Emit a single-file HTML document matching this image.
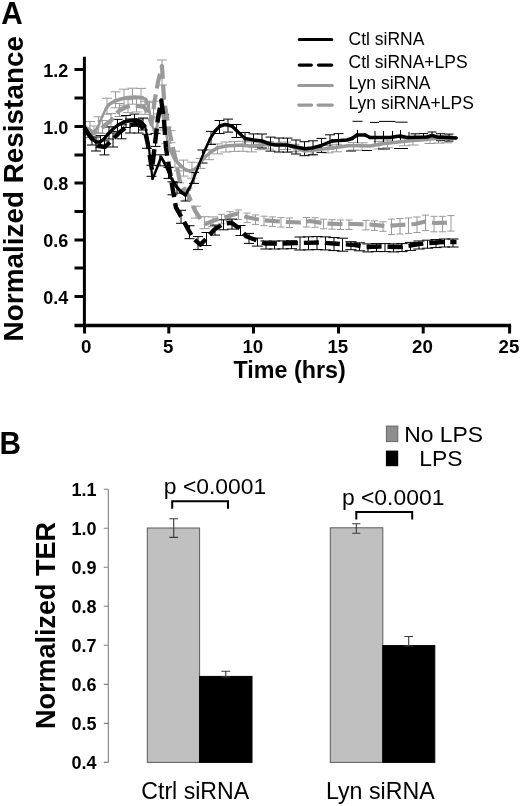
<!DOCTYPE html>
<html lang="en"><head><meta charset="utf-8"><title>Figure: Normalized Resistance and TER</title>
<style>html,body{margin:0;padding:0;background:#fff}body{width:520px;height:806px;overflow:hidden}svg{display:block}text{font-family:'Liberation Sans', Arial, Helvetica, sans-serif;fill:#000}.b{font-weight:bold}</style></head><body>
<svg width="520" height="806" viewBox="0 0 520 806">
<rect width="520" height="806" fill="#fff"/>
<text class="b" font-size="32" transform="translate(1.2 24.4) scale(0.93 1)">A</text>
<text class="b" font-size="27.9" text-anchor="middle" transform="translate(23.3 188.7) rotate(-90)">Normalized Resistance</text>
<path d="M90 121.5V137.5M85 121.5H95M85 137.5H95M98.5 116.8V132.8M93.5 116.8H103.5M93.5 132.8H103.5M107 98.2V114.2M102 98.2H112M102 114.2H112M115.5 91.8V107.8M110.5 91.8H120.5M110.5 107.8H120.5M124 89.2V105.2M119 89.2H129M119 105.2H129M132.5 88.2V104.2M127.5 88.2H137.5M127.5 104.2H137.5M141 88.4V104.4M136 88.4H146M136 104.4H146M149.5 102.7V118.7M144.5 102.7H154.5M144.5 118.7H154.5M158 114V130M153 114H163M153 130H163M166.5 127.3V143.3M161.5 127.3H171.5M161.5 143.3H171.5M175 151.2V167.2M170 151.2H180M170 167.2H180M183.5 160.1V176.1M178.5 160.1H188.5M178.5 176.1H188.5M192 162.2V178.2M187 162.2H197M187 178.2H197M200.5 158.4V168.4M195.5 158.4H205.5M195.5 168.4H205.5M209 149.7V159.7M204 149.7H214M204 159.7H214M217.5 143.9V153.9M212 143.9H223M212 153.9H223M226 142V152M220.5 142H231.5M220.5 152H231.5M234.5 141.4V151.4M229 141.4H240M229 151.4H240M243 141.3V151.3M237.5 141.3H248.5M237.5 151.3H248.5M251.5 141.9V151.9M246 141.9H257M246 151.9H257M260 142.2V149.7M254.5 142.2H265.5M254.5 149.7H265.5M268.5 141.6V149.1M263 141.6H274M263 149.1H274M285.5 142V149.5M280 142H291M280 149.5H291M294 144.3V151.8M288.5 144.3H299.5M288.5 151.8H299.5M311 147.4V154.9M305.5 147.4H316.5M305.5 154.9H316.5M328 145.4V152.9M322.5 145.4H333.5M322.5 152.9H333.5M336.5 144.3V151.8M331 144.3H342M331 151.8H342M353.5 142.6V150.1M348 142.6H359M348 150.1H359M362 142.8V150.3M356.5 142.8H367.5M356.5 150.3H367.5M379 141.4V148.9M373.5 141.4H384.5M373.5 148.9H384.5M387.5 140.2V147.7M382 140.2H393M382 147.7H393M404.5 138.3V145.8M399 138.3H410M399 145.8H410M413 137.5V145M407.5 137.5H418.5M407.5 145H418.5M430 136V143.5M424.5 136H435.5M424.5 143.5H435.5M438.5 135.6V143.1M433 135.6H444M433 143.1H444M447 135.3V142.8M441.5 135.3H452.5M441.5 142.8H452.5" fill="none" stroke="#999" stroke-width="1.0"/>
<path d="M94 126V139M89 126H99M89 139H99M102.5 120.5V133.5M97.5 120.5H107.5M97.5 133.5H107.5M111 113.5V126.5M106 113.5H116M106 126.5H116M119.5 103.5V116.5M114.5 103.5H124.5M114.5 116.5H124.5M128 99.6V112.6M123 99.6H133M123 112.6H133M136.5 99V112M131.5 99H141.5M131.5 112H141.5M145 101.3V114.3M140 101.3H150M140 114.3H150M153.5 101.2V117.2M148.5 101.2H158.5M148.5 117.2H158.5M162 60V85M157 60H167M157 85H167M170.5 130.7V142.7M165.5 130.7H175.5M165.5 142.7H175.5M179 170.9V182.9M174 170.9H184M174 182.9H184M187.5 188.1V200.1M182.5 188.1H192.5M182.5 200.1H192.5M196 206.1V218.1M191 206.1H201M191 218.1H201M204.5 216.7V228.7M199.5 216.7H209.5M199.5 228.7H209.5M213 216.9V226.4M208 216.9H218M208 226.4H218M221.5 214.3V223.8M217.9 214.3H225.1M217.9 223.8H225.1M230 211.7V221.2M226.4 211.7H233.6M226.4 221.2H233.6M238.5 210V219.5M234.9 210H242.1M234.9 219.5H242.1M247 213.1V222.6M243.4 213.1H250.6M243.4 222.6H250.6M255.5 214.9V224.4M251.9 214.9H259.1M251.9 224.4H259.1M264 216.2V225.7M260.4 216.2H267.6M260.4 225.7H267.6M272.5 216.9V226.4M268.9 216.9H276.1M268.9 226.4H276.1M281 217.6V227.1M277.4 217.6H284.6M277.4 227.1H284.6M289.5 218V227.5M285.9 218H293.1M285.9 227.5H293.1M306.5 217.5V227M302.9 217.5H310.1M302.9 227H310.1M315 217.8V227.3M311.4 217.8H318.6M311.4 227.3H318.6M323.5 219.2V228.8M319.9 219.2H327.1M319.9 228.8H327.1M332 219.7V229.2M328.4 219.7H335.6M328.4 229.2H335.6M340.5 220V229.5M336.9 220H344.1M336.9 229.5H344.1M349 220V229.5M345.4 220H352.6M345.4 229.5H352.6M366 220.4V229.9M362.4 220.4H369.6M362.4 229.9H369.6M374.5 220.9V230.4M370.9 220.9H378.1M370.9 230.4H378.1M383 221.8V231.3M379.4 221.8H386.6M379.4 231.3H386.6M391.5 219.1V234.6M387.9 219.1H395.1M387.9 234.6H395.1M400 218.5V234M396.4 218.5H403.6M396.4 234H403.6M408.5 217.9V233.4M404.9 217.9H412.1M404.9 233.4H412.1M417 217V232.5M413.4 217H420.6M413.4 232.5H420.6M425.5 215.1V230.6M421.9 215.1H429.1M421.9 230.6H429.1M434 216.3V231.8M430.4 216.3H437.6M430.4 231.8H437.6M442.5 216.3V231.8M438.9 216.3H446.1M438.9 231.8H446.1M451 215.6V231.1M447.4 215.6H454.6M447.4 231.1H454.6" fill="none" stroke="#999" stroke-width="1.0"/>
<path d="M92 133V145M87 133H97M87 145H97M100.5 135.6V147.6M95.5 135.6H105.5M95.5 147.6H105.5M109 127V139M104 127H114M104 139H114M117.5 119.4V131.4M112.5 119.4H122.5M112.5 131.4H122.5M126 115.5V127.5M121 115.5H131M121 127.5H131M134.5 114.1V126.1M129.5 114.1H139.5M129.5 126.1H139.5M143 118V130M138 118H148M138 130H148M151.5 165.3V176.3M146.5 165.3H156.5M146.5 176.3H156.5M160 154.8V165.8M155 154.8H165M155 165.8H165M168.5 167.4V178.4M163.5 167.4H173.5M163.5 178.4H173.5M177 182.2V193.2M172 182.2H182M172 193.2H182M185.5 190V201M180.5 190H190.5M180.5 201H190.5M194 172.4V183.4M189 172.4H199M189 183.4H199M202.5 150V163M197.5 150H207.5M197.5 163H207.5M211 131.4V144.4M206 131.4H216M206 144.4H216M219.5 120.5V133.5M214.5 120.5H224.5M214.5 133.5H224.5M228 119.1V132.1M223 119.1H233M223 132.1H233M236.5 124.5V137.5M231.5 124.5H241.5M231.5 137.5H241.5M245 132.5V145.5M240 132.5H250M240 145.5H250M253.5 133.9V146.9M248.5 133.9H258.5M248.5 146.9H258.5M262 134V148M257 134H267M257 148H267M270.5 137.1V151.1M265.5 137.1H275.5M265.5 151.1H275.5M279 138V152M274 138H284M274 152H284M287.5 138.1V152.1M282.5 138.1H292.5M282.5 152.1H292.5M296 140V154M291 140H301M291 154H301M304.5 141.7V155.7M299.5 141.7H309.5M299.5 155.7H309.5M313 140.8V154.8M308 140.8H318M308 154.8H318M321.5 138.4V152.4M316.5 138.4H326.5M316.5 152.4H326.5M330 134.8V148.8M325 134.8H335M325 148.8H335M338.5 133.6V147.6M333.5 133.6H343.5M333.5 147.6H343.5" fill="none" stroke="#000" stroke-width="1.0"/>
<path d="M415 133.8V140.8M410.5 133.8H419.5M410.5 140.8H419.5M423.5 133.6V140.6M419 133.6H428M419 140.6H428M432 132V139M427.5 132H436.5M427.5 139H436.5M440.5 133.7V140.7M436 133.7H445M436 140.7H445M449 134.1V141.1M444.5 134.1H453.5M444.5 141.1H453.5" fill="none" stroke="#000" stroke-width="1.0"/>
<path d="M357.5 130V143M375 131V144M383.5 131V143M392.5 131V143M400.5 130V143M409 132V142M352.5 121.3H362.5M370 122.4H379M379 121.4H395.5M395.5 122.2H407.5M346 151H356M362 150.5H372M378 149H390M394 148.5H408" fill="none" stroke="#000" stroke-width="1"/>
<path d="M96 137V151M91 137H101M91 151H101M104.5 140.9V154.9M99.5 140.9H109.5M99.5 154.9H109.5M113 133V147M108 133H118M108 147H118M121.5 124.8V138.8M116.5 124.8H126.5M116.5 138.8H126.5M130 119V133M125 119H135M125 133H135M138.5 119V133M133.5 119H143.5M133.5 133H143.5M147 134.3V148.3M142 134.3H152M142 148.3H152M155.5 133.4V146.4M150.5 133.4H160.5M150.5 146.4H160.5M164 114.7V127.7M159 114.7H169M159 127.7H169M172.5 181.8V194.8M167.5 181.8H177.5M167.5 194.8H177.5M181 210.3V223.3M176 210.3H186M176 223.3H186M189.5 225.7V238.7M184.5 225.7H194.5M184.5 238.7H194.5M198 236.6V249.6M193 236.6H203M193 249.6H203M206.5 232.5V245.5M201.5 232.5H211.5M201.5 245.5H211.5M215 225.1V235.1M210 225.1H220M210 235.1H220M223.5 219.8V229.8M218.5 219.8H228.5M218.5 229.8H228.5M232 219.1V229.1M227 219.1H237M227 229.1H237M240.5 225.5V235.5M235.5 225.5H245.5M235.5 235.5H245.5M249 233.4V243.4M244 233.4H254M244 243.4H254M257.5 238.1V246.1M251.9 238.1H263.1M251.9 246.1H263.1M266 241V249M260.4 241H271.6M260.4 249H271.6M274.5 241V249M268.9 241H280.1M268.9 249H280.1M283 240.9V248.9M277.4 240.9H288.6M277.4 248.9H288.6M291.5 240.7V248.7M285.9 240.7H297.1M285.9 248.7H297.1M300 237V250M294.4 237H305.6M294.4 250H305.6M308.5 236.8V249.8M302.9 236.8H314.1M302.9 249.8H314.1M317 236.6V249.6M311.4 236.6H322.6M311.4 249.6H322.6M325.5 236.9V249.9M319.9 236.9H331.1M319.9 249.9H331.1M334 237.6V250.6M328.4 237.6H339.6M328.4 250.6H339.6M342.5 238.2V251.2M336.9 238.2H348.1M336.9 251.2H348.1M351 241.7V249.7M345.4 241.7H356.6M345.4 249.7H356.6M359.5 242.8V250.8M353.9 242.8H365.1M353.9 250.8H365.1M368 243.9V251.9M362.4 243.9H373.6M362.4 251.9H373.6M376.5 243.6V251.6M370.9 243.6H382.1M370.9 251.6H382.1M385 243.6V251.6M379.4 243.6H390.6M379.4 251.6H390.6M393.5 243.9V251.9M387.9 243.9H399.1M387.9 251.9H399.1M402 243.6V251.6M396.4 243.6H407.6M396.4 251.6H407.6M410.5 242.4V250.4M404.9 242.4H416.1M404.9 250.4H416.1M419 241V249M413.4 241H424.6M413.4 249H424.6M427.5 240.2V248.2M421.9 240.2H433.1M421.9 248.2H433.1M436 239.6V247.6M430.4 239.6H441.6M430.4 247.6H441.6M444.5 239V247M438.9 239H450.1M438.9 247H450.1M453 239V247M447.4 239H458.6M447.4 247H458.6" fill="none" stroke="#000" stroke-width="1.0"/>
<path d="M98 127L102 117M102 117L106 108.5M146 99.5L149 109M149 109L152 125M152 125L155 133M155 133L158 122M158 122L161.5 109M161.5 109L164 122M164 122L167 138M167 138L170 150" fill="none" stroke="#999" stroke-width="2.6" stroke-linecap="round"/>
<path d="M170 150L174 158" fill="none" stroke="#999" stroke-width="2.8" stroke-linecap="round"/>
<path d="M94 132.5L98 127M106 108.5L109 104.5M174 158L178 163M196 168.5L200 163" fill="none" stroke="#999" stroke-width="3" stroke-linecap="round"/>
<path d="M178 163L182 167M200 163L205 157M205 157L211 152" fill="none" stroke="#999" stroke-width="3.2" stroke-linecap="round"/>
<path d="M84.5 127L89 130M89 130L94 132.5M109 104.5L115 101M142 97.5L146 99.5M182 167L186 170M190 171L196 168.5M211 152L217 148" fill="none" stroke="#999" stroke-width="3.4" stroke-linecap="round"/>
<path d="M115 101L121 99M121 99L127 97.5M127 97.5L135 97M135 97L142 97.5M186 170L190 171M217 148L226 146M226 146L240 145M240 145L250 146M250 146L262.5 145M262.5 145L280 143.8M280 143.8L290 146M290 146L305 151M305 151L315 150M315 150L325 148.8M325 148.8L350 145.5M350 145.5L370 146M370 146L382.5 143.8M382.5 143.8L407.5 141M407.5 141L432.5 138.8M432.5 138.8L456 138" fill="none" stroke="#999" stroke-width="3.6" stroke-linecap="round"/>
<polyline points="84.5,127 89,130 94,133 99,131 104,126 111,120.5 116,114 120,110 125,107.5 130,106 137,106 144,107 147,111 149,117 151.5,124 154.6,101 158,82 162,66 164,99.6 168.8,128.5 172,144 175.6,159 179.6,180 184,189 188.8,196 194.6,210 201.5,220.4 206,223.8 214.2,220.4 225.8,217 237.3,213.5 246.5,217 255.8,219 265,220.4 280,221.5 300,222.5 310,221 325,223.5 340,224 355,224 370,224.5 385,226 400,225 415,224 425.8,221.5 435,223 445.7,222.7 452,222" fill="none" stroke="#999" stroke-width="4.2" stroke-dasharray="15 6" stroke-linejoin="round"/>
<path d="M145 126L148 140M148 140L152.5 179" fill="none" stroke="#000" stroke-width="2.2" stroke-linecap="round"/>
<path d="M152.5 179L157 168M157 168L161 157M165 164L170 176M190 187L195 175M195 175L200 162M200 162L205 150" fill="none" stroke="#000" stroke-width="2.4" stroke-linecap="round"/>
<path d="M205 150L210 139" fill="none" stroke="#000" stroke-width="2.6" stroke-linecap="round"/>
<path d="M84.5 127L88 133M161 157L165 164M170 176L176 186M185.5 195L190 187" fill="none" stroke="#000" stroke-width="2.8" stroke-linecap="round"/>
<path d="M88 133L92 139M104 139L108 134M210 139L215 131" fill="none" stroke="#000" stroke-width="3" stroke-linecap="round"/>
<path d="M108 134L113 129M113 129L118 125M141 122L145 126M176 186L181 192M215 131L220 126M232 126L238 132M238 132L245 138.5" fill="none" stroke="#000" stroke-width="3.2" stroke-linecap="round"/>
<path d="M92 139L96 142M100 142L104 139M118 125L124 122M181 192L185.5 195M320 146L332 141M352 138.5L357 135M365 135L370 137.5" fill="none" stroke="#000" stroke-width="3.4" stroke-linecap="round"/>
<path d="M96 142L100 142M124 122L130 120.5M130 120.5L136 120M136 120L141 122M220 126L225 124.5M225 124.5L232 126M245 138.5L254 140M254 140L262 141M262 141L270 144M270 144L275 145M275 145L287 145M287 145L296 147M296 147L305 148.8M305 148.8L312 148M312 148L320 146M332 141L347 140M347 140L352 138.5M357 135L365 135M370 137.5L390 137.5M390 137.5L400 136M400 136L407 137.5M407 137.5L427 137M427 137L432 135.5M432 135.5L437 137M437 137L456 138" fill="none" stroke="#000" stroke-width="3.6" stroke-linecap="round"/>
<polyline points="84.5,128 89,135 94,141 99,146 105,147 110,142 115,137 120,132 125,128 130,125 136,124 141,126 145,131 148,145 152,170 154.5,148 158,118 161.3,100.5 163.8,118 166,148 169,167 172.7,189 176,207.7 182,218 187.7,228.5 193.5,238.8 200.4,244.6 207.3,237.7 214.2,229.6 223.5,223.8 231.5,222.7 239.6,228.5 246.5,236.5 255.8,240 265,243.5 280,243.5 300,243 320,242.5 340,244 355,245 366,247 380,246.5 399,247 410,245.5 419,244 430,243 443.5,242 456.5,242" fill="none" stroke="#000" stroke-width="4.4" stroke-dasharray="15 6" stroke-linejoin="round"/>
<path d="M84.4 56.8V327.0" stroke="#000" stroke-width="3" fill="none"/>
<path d="M74.5 325.5H511.1" stroke="#000" stroke-width="3.3" fill="none"/>
<path d="M74.5 69.5H84.4M74.5 126.5H84.4M74.5 183H84.4M74.5 240H84.4M74.5 296.5H84.4M74.5 98H84.4M74.5 155H84.4M74.5 211.5H84.4M74.5 268H84.4M84.5 325.5V333.5M168.8 325.5V333.5M253.5 325.5V333.5M338.5 325.5V333.5M423.2 325.5V333.5M509.6 325.5V333.5" stroke="#000" stroke-width="3" fill="none"/>
<text class="b" font-size="18" text-anchor="end" x="68.3" y="76.7">1.2</text>
<text class="b" font-size="18" text-anchor="end" x="68.3" y="133.7">1.0</text>
<text class="b" font-size="18" text-anchor="end" x="68.3" y="190.2">0.8</text>
<text class="b" font-size="18" text-anchor="end" x="68.3" y="247.2">0.6</text>
<text class="b" font-size="18" text-anchor="end" x="68.3" y="303.7">0.4</text>
<text class="b" font-size="18.7" text-anchor="middle" x="86.3" y="352.6">0</text>
<text class="b" font-size="18.7" text-anchor="middle" x="168.1" y="352.6">5</text>
<text class="b" font-size="18.7" text-anchor="middle" x="252.8" y="352.6">10</text>
<text class="b" font-size="18.7" text-anchor="middle" x="337.8" y="352.6">15</text>
<text class="b" font-size="18.7" text-anchor="middle" x="422.5" y="352.6">20</text>
<text class="b" font-size="18.7" text-anchor="middle" x="508.9" y="352.6">25</text>
<text class="b" font-size="23.3" text-anchor="middle" x="289.6" y="378">Time (hrs)</text>
<path d="M299.3 39.5H331.7" stroke="#000" stroke-width="3.1" stroke-linecap="round"/>
<path d="M299.3 65.1H311.3M318.6 65.1H331.7" stroke="#000" stroke-width="3.3" stroke-linecap="round"/>
<path d="M298.7 85.6H332.3" stroke="#999" stroke-width="3" stroke-linecap="round"/>
<path d="M298.7 105.1H311.6M318 105.1H332.3" stroke="#999" stroke-width="3.1" stroke-linecap="round"/>
<text font-size="17.5" x="348.5" y="45.2">Ctl siRNA</text>
<text font-size="17.5" x="348.5" y="68.3">Ctl siRNA+LPS</text>
<text font-size="17.5" x="348.5" y="88.8">Lyn siRNA</text>
<text font-size="17.5" x="348.5" y="108.7">Lyn siRNA+LPS</text>
<text class="b" font-size="32" transform="translate(-0.6 453.8) scale(0.93 1)">B</text>
<text class="b" font-size="27" text-anchor="middle" transform="translate(54.5 625.5) rotate(-90)">Normalized TER</text>
<path d="M108.3 489.2V762.4M103.8 489.2H108.3M103.8 528.3H108.3M103.8 567.3H108.3M103.8 606.3H108.3M103.8 645.3H108.3M103.8 684.4H108.3M103.8 723.4H108.3M103.8 762.4H108.3" stroke="#808080" stroke-width="1.1" fill="none"/>
<text class="b" font-size="18" text-anchor="end" x="96.5" y="496.2">1.1</text>
<text class="b" font-size="18" text-anchor="end" x="96.5" y="535.3">1.0</text>
<text class="b" font-size="18" text-anchor="end" x="96.5" y="574.3">0.9</text>
<text class="b" font-size="18" text-anchor="end" x="96.5" y="613.3">0.8</text>
<text class="b" font-size="18" text-anchor="end" x="96.5" y="652.3">0.7</text>
<text class="b" font-size="18" text-anchor="end" x="96.5" y="691.4">0.6</text>
<text class="b" font-size="18" text-anchor="end" x="96.5" y="730.4">0.5</text>
<text class="b" font-size="18" text-anchor="end" x="96.5" y="769.4">0.4</text>
<rect x="147.3" y="528" width="52.3" height="234.4" fill="#c0c0c0" stroke="#5a5a5a" stroke-width="1"/>
<rect x="199.6" y="676.4" width="52.4" height="86" fill="#000" stroke="#000" stroke-width="1"/>
<rect x="330.3" y="527.8" width="52.5" height="234.6" fill="#c0c0c0" stroke="#5a5a5a" stroke-width="1"/>
<rect x="382.8" y="645.6" width="52" height="116.8" fill="#000" stroke="#000" stroke-width="1"/>
<path d="M173.7 518.7V537.4M169.3 518.7H178.1M169.3 537.4H178.1" stroke="#3a3a3a" stroke-width="1.1" fill="none"/>
<path d="M225.8 671.3V677M221.4 671.3H230.2M221.4 677H230.2" stroke="#3a3a3a" stroke-width="1.1" fill="none"/>
<path d="M356.3 523.7V533.2M352.2 523.7H360.4M352.2 533.2H360.4" stroke="#3a3a3a" stroke-width="1.1" fill="none"/>
<path d="M408.7 636.5V646M404.3 636.5H413.1M404.3 646H413.1" stroke="#3a3a3a" stroke-width="1.1" fill="none"/>
<path d="M172.2 508.8V501.2H228V508.8" stroke="#000" stroke-width="2" fill="none"/>
<path d="M356.3 519.6V512H412.2V519.6" stroke="#000" stroke-width="2" fill="none"/>
<text font-size="22.9" x="163.8" y="494.2">p &lt;0.0001</text>
<text font-size="22.9" x="341.9" y="504.8">p &lt;0.0001</text>
<rect x="386.4" y="426.1" width="11.4" height="15.5" fill="#8e8e8e" stroke="#666" stroke-width="1"/>
<rect x="385.9" y="450.6" width="12.3" height="15.6" fill="#000"/>
<text font-size="22.9" x="404.2" y="441.8">No LPS</text>
<text font-size="22.9" x="419.2" y="466">LPS</text>
<text font-size="23.1" text-anchor="middle" x="195.2" y="798.7">Ctrl siRNA</text>
<text font-size="23.2" text-anchor="middle" x="380.3" y="798.7">Lyn siRNA</text>
</svg></body></html>
